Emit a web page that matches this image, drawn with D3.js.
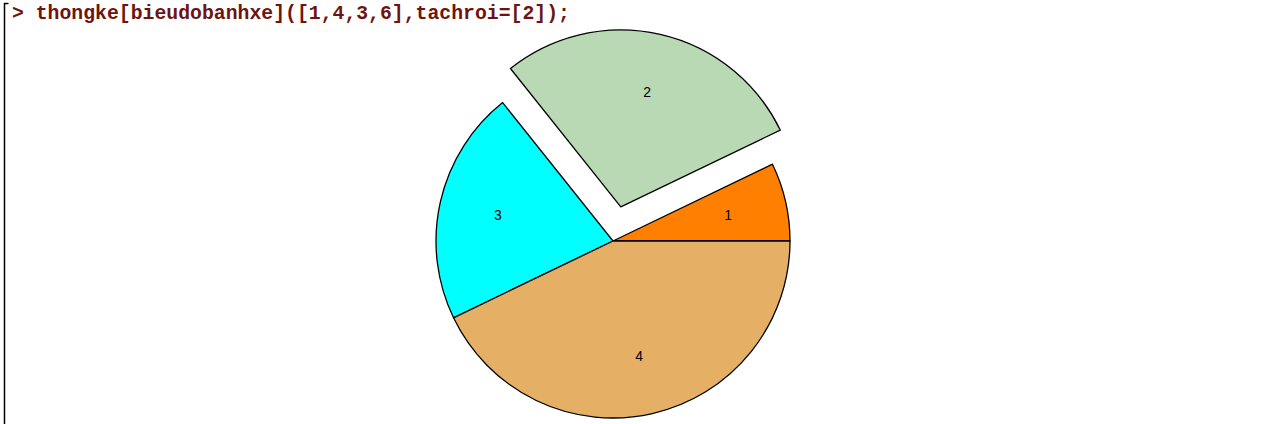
<!DOCTYPE html>
<html>
<head>
<meta charset="utf-8">
<script src="https://cdn.jsdelivr.net/npm/d3@7"></script>
<style>
  body { margin: 0; background: #fff; }
  svg { display: block; }
</style>
</head>
<body>
<div id="chart"></div>
<script>
"use strict";
const command = "> thongke[bieudobanhxe]([1,4,3,6],tachroi=[2]);";
const categories = ["1", "2", "3", "4"];
const values = [1, 4, 3, 6];
const exploded = ["2"];
const colors = ["#ff8000", "#b9d9b4", "#00ffff", "#e6af66"];

const width = 1262, height = 424;
const cx = 613, cy = 241, radius = 177, explodeBy = 35;

const svg = d3.select("#chart").append("svg")
    .attr("width", width)
    .attr("height", height);

// worksheet bracket on the left
svg.append("path")
    .attr("d", "M8.5,3.5 H4.5 V424")
    .style("fill", "none")
    .style("stroke", "#000")
    .style("stroke-width", 1.5);

svg.append("text")
    .attr("x", 12)
    .attr("y", 19)
    .style("font", "bold 19.8px 'Liberation Mono', monospace")
    .style("fill", "#6e1410")
    .text(command);

let data = categories.map((c, i) => ({cat: c, value: values[i], color: colors[i]}));

// maple draws counterclockwise from 3 o'clock; d3 angles go clockwise from 12
let pie = d3.pie()
    .sort(null)
    .value(d => d.value)
    .startAngle(Math.PI / 2)
    .endAngle(Math.PI / 2 - 2 * Math.PI);

let arc = d3.arc().innerRadius(0).outerRadius(radius);
let labelArc = d3.arc().innerRadius(radius * 2 / 3).outerRadius(radius * 2 / 3);

let g = svg.append("g")
    .attr("transform", "translate(" + cx + "," + cy + ")");

let slices = g.selectAll("g.slice")
    .data(pie(data))
    .enter().append("g")
    .attr("class", "slice")
    .attr("transform", d => {
        if (exploded.indexOf(d.data.cat) < 0) return null;
        let mid = (d.startAngle + d.endAngle) / 2;
        return "translate(" + (Math.sin(mid) * explodeBy) + "," + (-Math.cos(mid) * explodeBy) + ")";
    });

slices.append("path")
    .attr("d", arc)
    .style("fill", d => d.data.color)
    .style("stroke", "#000")
    .style("stroke-width", 1.3)
    .style("stroke-linejoin", "round");

slices.append("text")
    .attr("transform", d => "translate(" + labelArc.centroid(d) + ")")
    .attr("dy", "0.35em")
    .attr("text-anchor", "middle")
    .style("font", "14px 'Liberation Sans', sans-serif")
    .style("fill", "#000")
    .text(d => d.data.cat);
</script>
</body>
</html>
